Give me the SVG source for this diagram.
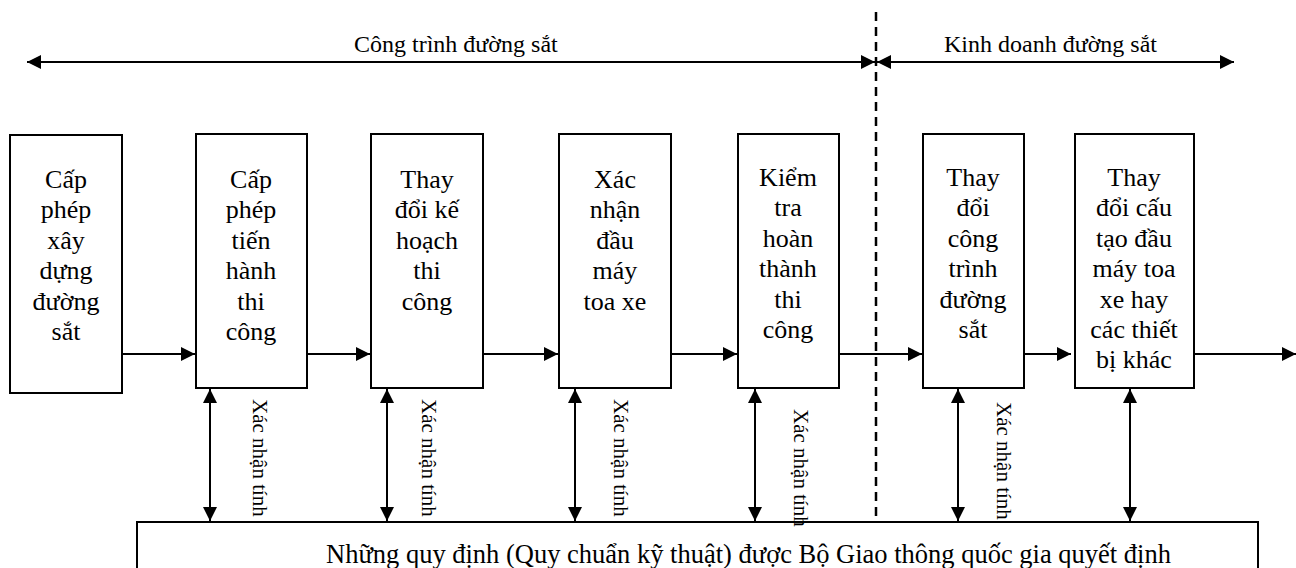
<svg xmlns="http://www.w3.org/2000/svg" width="1296" height="568" viewBox="0 0 1296 568">
<style>
  .box { fill: #fff; stroke: #000; stroke-width: 2; }
  .t { font-family: "Liberation Serif", "Times New Roman", serif; fill: #000; }
  .bt { font-size: 26px; text-anchor: middle; }
  .ht { font-size: 24px; }
  .vt { font-size: 21px; }
  .ln { stroke: #000; stroke-width: 2; fill: none; }
  .arr { marker-end: url(#ah); }
  .darr { marker-start: url(#ah); marker-end: url(#ah); }
</style>
<defs>
  <marker id="ah" viewBox="0 0 10 10" refX="10" refY="5" markerUnits="userSpaceOnUse" markerWidth="15" markerHeight="14" orient="auto-start-reverse">
    <path d="M0,0 L10,5 L0,10 z" fill="#000"/>
  </marker>
</defs>
<rect width="1296" height="568" fill="#fff"/>

<g id="header">
  <text class="t ht" x="354" y="52">Công trình đường sắt</text>
  <text class="t ht" x="944" y="52">Kinh doanh đường sắt</text>
</g>

<g id="divider">
  <line x1="876" y1="12" x2="876" y2="520" stroke="#000" stroke-width="2.5" stroke-dasharray="9,6"/>
</g>

<g id="n1">
  <rect class="box" x="10" y="135" width="112" height="258"/>
  <text class="t bt" x="66" y="188">
    <tspan x="66" dy="0">Cấp</tspan><tspan x="66" dy="30.4">phép</tspan><tspan x="66" dy="30.4">xây</tspan><tspan x="66" dy="30.4">dựng</tspan><tspan x="66" dy="30.4">đường</tspan><tspan x="66" dy="30.4">sắt</tspan>
  </text>
</g>
<g id="n2">
  <rect class="box" x="196" y="134" width="111" height="254"/>
  <text class="t bt" x="251" y="188">
    <tspan x="251" dy="0">Cấp</tspan><tspan x="251" dy="30.4">phép</tspan><tspan x="251" dy="30.4">tiến</tspan><tspan x="251" dy="30.4">hành</tspan><tspan x="251" dy="30.4">thi</tspan><tspan x="251" dy="30.4">công</tspan>
  </text>
</g>
<g id="n3">
  <rect class="box" x="371" y="134" width="112" height="254"/>
  <text class="t bt" x="427" y="188">
    <tspan x="427" dy="0">Thay</tspan><tspan x="427" dy="30.4">đổi kế</tspan><tspan x="427" dy="30.4">hoạch</tspan><tspan x="427" dy="30.4">thi</tspan><tspan x="427" dy="30.4">công</tspan>
  </text>
</g>
<g id="n4">
  <rect class="box" x="559" y="134" width="112" height="254"/>
  <text class="t bt" x="615" y="188">
    <tspan x="615" dy="0">Xác</tspan><tspan x="615" dy="30.4">nhận</tspan><tspan x="615" dy="30.4">đầu</tspan><tspan x="615" dy="30.4">máy</tspan><tspan x="615" dy="30.4">toa xe</tspan>
  </text>
</g>
<g id="n5">
  <rect class="box" x="738" y="134" width="101" height="254"/>
  <text class="t bt" x="788" y="186">
    <tspan x="788" dy="0">Kiểm</tspan><tspan x="788" dy="30.4">tra</tspan><tspan x="788" dy="30.4">hoàn</tspan><tspan x="788" dy="30.4">thành</tspan><tspan x="788" dy="30.4">thi</tspan><tspan x="788" dy="30.4">công</tspan>
  </text>
</g>
<g id="n6">
  <rect class="box" x="923" y="134" width="101" height="254"/>
  <text class="t bt" x="973" y="186">
    <tspan x="973" dy="0">Thay</tspan><tspan x="973" dy="30.4">đổi</tspan><tspan x="973" dy="30.4">công</tspan><tspan x="973" dy="30.4">trình</tspan><tspan x="973" dy="30.4">đường</tspan><tspan x="973" dy="30.4">sắt</tspan>
  </text>
</g>
<g id="n7">
  <rect class="box" x="1075" y="134" width="119" height="254"/>
  <text class="t bt" x="1134" y="186">
    <tspan x="1134" dy="0">Thay</tspan><tspan x="1134" dy="30.4">đổi cấu</tspan><tspan x="1134" dy="30.4">tạo đầu</tspan><tspan x="1134" dy="30.4">máy toa</tspan><tspan x="1134" dy="30.4">xe hay</tspan><tspan x="1134" dy="30.4">các thiết</tspan><tspan x="1134" dy="30.4">bị khác</tspan>
  </text>
</g>
<g id="regulations">
  <rect class="box" x="137" y="522" width="1121" height="60"/>
  <text class="t" font-size="26.5" x="326" y="563">Những quy định (Quy chuẩn kỹ thuật) được Bộ Giao thông quốc gia quyết định</text>
</g>

<g id="connectors">
  <line class="ln darr" x1="875" y1="62" x2="27" y2="62"/>
  <line class="ln darr" x1="877" y1="62" x2="1234" y2="62"/>

  <line class="ln arr" x1="122" y1="354" x2="195" y2="354"/>
  <line class="ln arr" x1="307" y1="354" x2="370" y2="354"/>
  <line class="ln arr" x1="483" y1="354" x2="558" y2="354"/>
  <line class="ln arr" x1="671" y1="354" x2="737" y2="354"/>
  <line class="ln arr" x1="839" y1="354" x2="922" y2="354"/>
  <line class="ln arr" x1="1024" y1="354" x2="1071" y2="354"/>
  <line class="ln arr" x1="1194" y1="354" x2="1296" y2="354"/>

  <line class="ln darr" x1="210" y1="389" x2="210" y2="521"/>
  <line class="ln darr" x1="387" y1="389" x2="387" y2="521"/>
  <line class="ln darr" x1="575" y1="389" x2="575" y2="521"/>
  <line class="ln darr" x1="755" y1="389" x2="755" y2="521"/>
  <line class="ln darr" x1="958" y1="389" x2="958" y2="521"/>
  <line class="ln darr" x1="1130" y1="389" x2="1130" y2="521"/>
</g>

<g id="labels">
  <text class="t vt" transform="translate(253,399) rotate(90)">Xác nhận tính</text>
  <text class="t vt" transform="translate(422,399) rotate(90)">Xác nhận tính</text>
  <text class="t vt" transform="translate(614,399) rotate(90)">Xác nhận tính</text>
  <text class="t vt" transform="translate(794,409) rotate(90)">Xác nhận tính</text>
  <text class="t vt" transform="translate(997,402) rotate(90)">Xác nhận tính</text>
</g>
</svg>
